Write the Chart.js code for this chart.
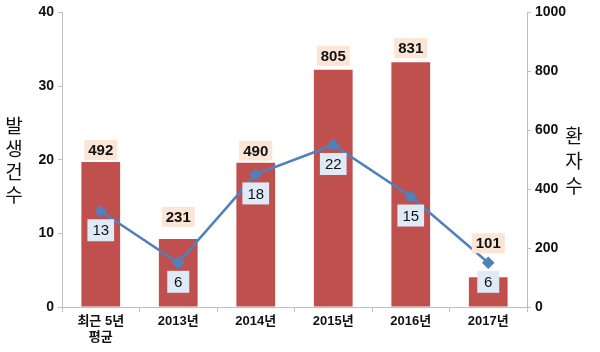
<!DOCTYPE html>
<html><head><meta charset="utf-8">
<script src="https://cdn.jsdelivr.net/npm/chart.js@4"></script>
<style>html,body{margin:0;padding:0;background:#fff}#wrap{width:600px;height:352px}</style>
</head><body><div id="wrap"><canvas id="c"></canvas></div>
<script>
const categories = [["최근 5년","평균"], "2013년", "2014년", "2015년", "2016년", "2017년"];
const patients = [492, 231, 490, 805, 831, 101];
const outbreaks = [13, 6, 18, 22, 15, 6];
const leftTicks = [0, 10, 20, 30, 40];
const rightTicks = [0, 200, 400, 600, 800, 1000];
const leftTitle = "발생건수";
const rightTitle = "환자수";

const FONT = "'Liberation Sans', 'Noto Sans CJK KR', sans-serif";
const KFONT = "'Noto Sans CJK KR', sans-serif";

const labelPlugin = {
  id: 'valLabels',
  afterDatasetsDraw(chart, args, opts) {
    const ctx = chart.ctx;
    ctx.save();
    ctx.textAlign = 'center';
    ctx.textBaseline = 'middle';
    const bm = chart.getDatasetMeta(0);
    ctx.font = "bold 15px " + FONT;
    bm.data.forEach((el, i) => {
      const txt = String(patients[i]);
      const y = el.y - opts.barOffsets[i];
      const w = ctx.measureText(txt).width + 8;
      ctx.fillStyle = '#FBE5D6';
      ctx.fillRect(el.x - w/2, y - 10, w, 20);
      ctx.fillStyle = '#111';
      ctx.fillText(txt, el.x, y + 1);
    });
    const lm = chart.getDatasetMeta(1);
    ctx.font = "15px " + FONT;
    lm.data.forEach((el, i) => {
      const txt = String(outbreaks[i]);
      const y = el.y + 19;
      const w = Math.max(ctx.measureText(txt).width + 10, 22);
      ctx.fillStyle = '#DEEBF7';
      ctx.fillRect(el.x - w/2, y - 11, w, 22);
      ctx.fillStyle = '#111';
      ctx.fillText(txt, el.x, y + 1);
    });
    ctx.restore();
  },
  afterDraw(chart) {
    const ctx = chart.ctx;
    ctx.save();
    ctx.font = "19px " + KFONT;
    ctx.fillStyle = '#111';
    ctx.textAlign = 'center';
    ctx.textBaseline = 'middle';
    [...leftTitle].forEach((ch, i) => ctx.fillText(ch, 14, 126 + i * 23));
    [...rightTitle].forEach((ch, i) => ctx.fillText(ch, 574, 136 + i * 25));
    ctx.restore();
  }
};

const tickFont = { family: FONT, size: 14, weight: 'bold' };

new Chart(document.getElementById('c'), {
  data: {
    labels: categories,
    datasets: [
      { type: 'bar', data: patients, yAxisID: 'yR', backgroundColor: '#C0504D',
        categoryPercentage: 1, barPercentage: 0.5, order: 2 },
      { type: 'line', data: outbreaks, yAxisID: 'yL', borderColor: '#4F81BD', borderWidth: 2.5,
        pointStyle: 'rectRot', pointRadius: 4.5, pointBackgroundColor: '#4F81BD',
        pointBorderColor: '#4F81BD', tension: 0, order: 1 }
    ]
  },
  options: {
    responsive: true, maintainAspectRatio: false, animation: false,
    layout: { padding: { top: 12, left: 0, right: 0, bottom: 0 } },
    plugins: { legend: { display: false }, tooltip: { enabled: false },
      valLabels: { barOffsets: [12, 22, 12, 14, 14, 34] } },
    scales: {
      x: {
        offset: true,
        grid: { display: true, drawOnChartArea: false, offset: true, tickLength: 5, color: '#BFBFBF' },
        border: { color: '#BFBFBF', width: 1 },
        ticks: { color: '#111', font: { family: FONT, size: 13, weight: 'bold' }, padding: 2, maxRotation: 0 },
        afterFit(s) { s.height = 45; }
      },
      yL: {
        position: 'left', min: 0, max: 40,
        afterBuildTicks(s) { s.ticks = leftTicks.map(v => ({ value: v })); },
        grid: { drawOnChartArea: false, tickLength: 4, color: '#BFBFBF' },
        border: { color: '#BFBFBF', width: 1 },
        ticks: { color: '#111', font: tickFont, padding: 4, callback: v => String(v) },
        afterFit(s) { s.width = 62; }
      },
      yR: {
        position: 'right', min: 0, max: 1000,
        afterBuildTicks(s) { s.ticks = rightTicks.map(v => ({ value: v })); },
        grid: { drawOnChartArea: false, tickLength: 4, color: '#BFBFBF' },
        border: { color: '#BFBFBF', width: 1 },
        ticks: { color: '#111', font: tickFont, padding: 4, callback: v => String(v) },
        afterFit(s) { s.width = 73; }
      }
    }
  },
  plugins: [labelPlugin]
});
</script></body></html>
